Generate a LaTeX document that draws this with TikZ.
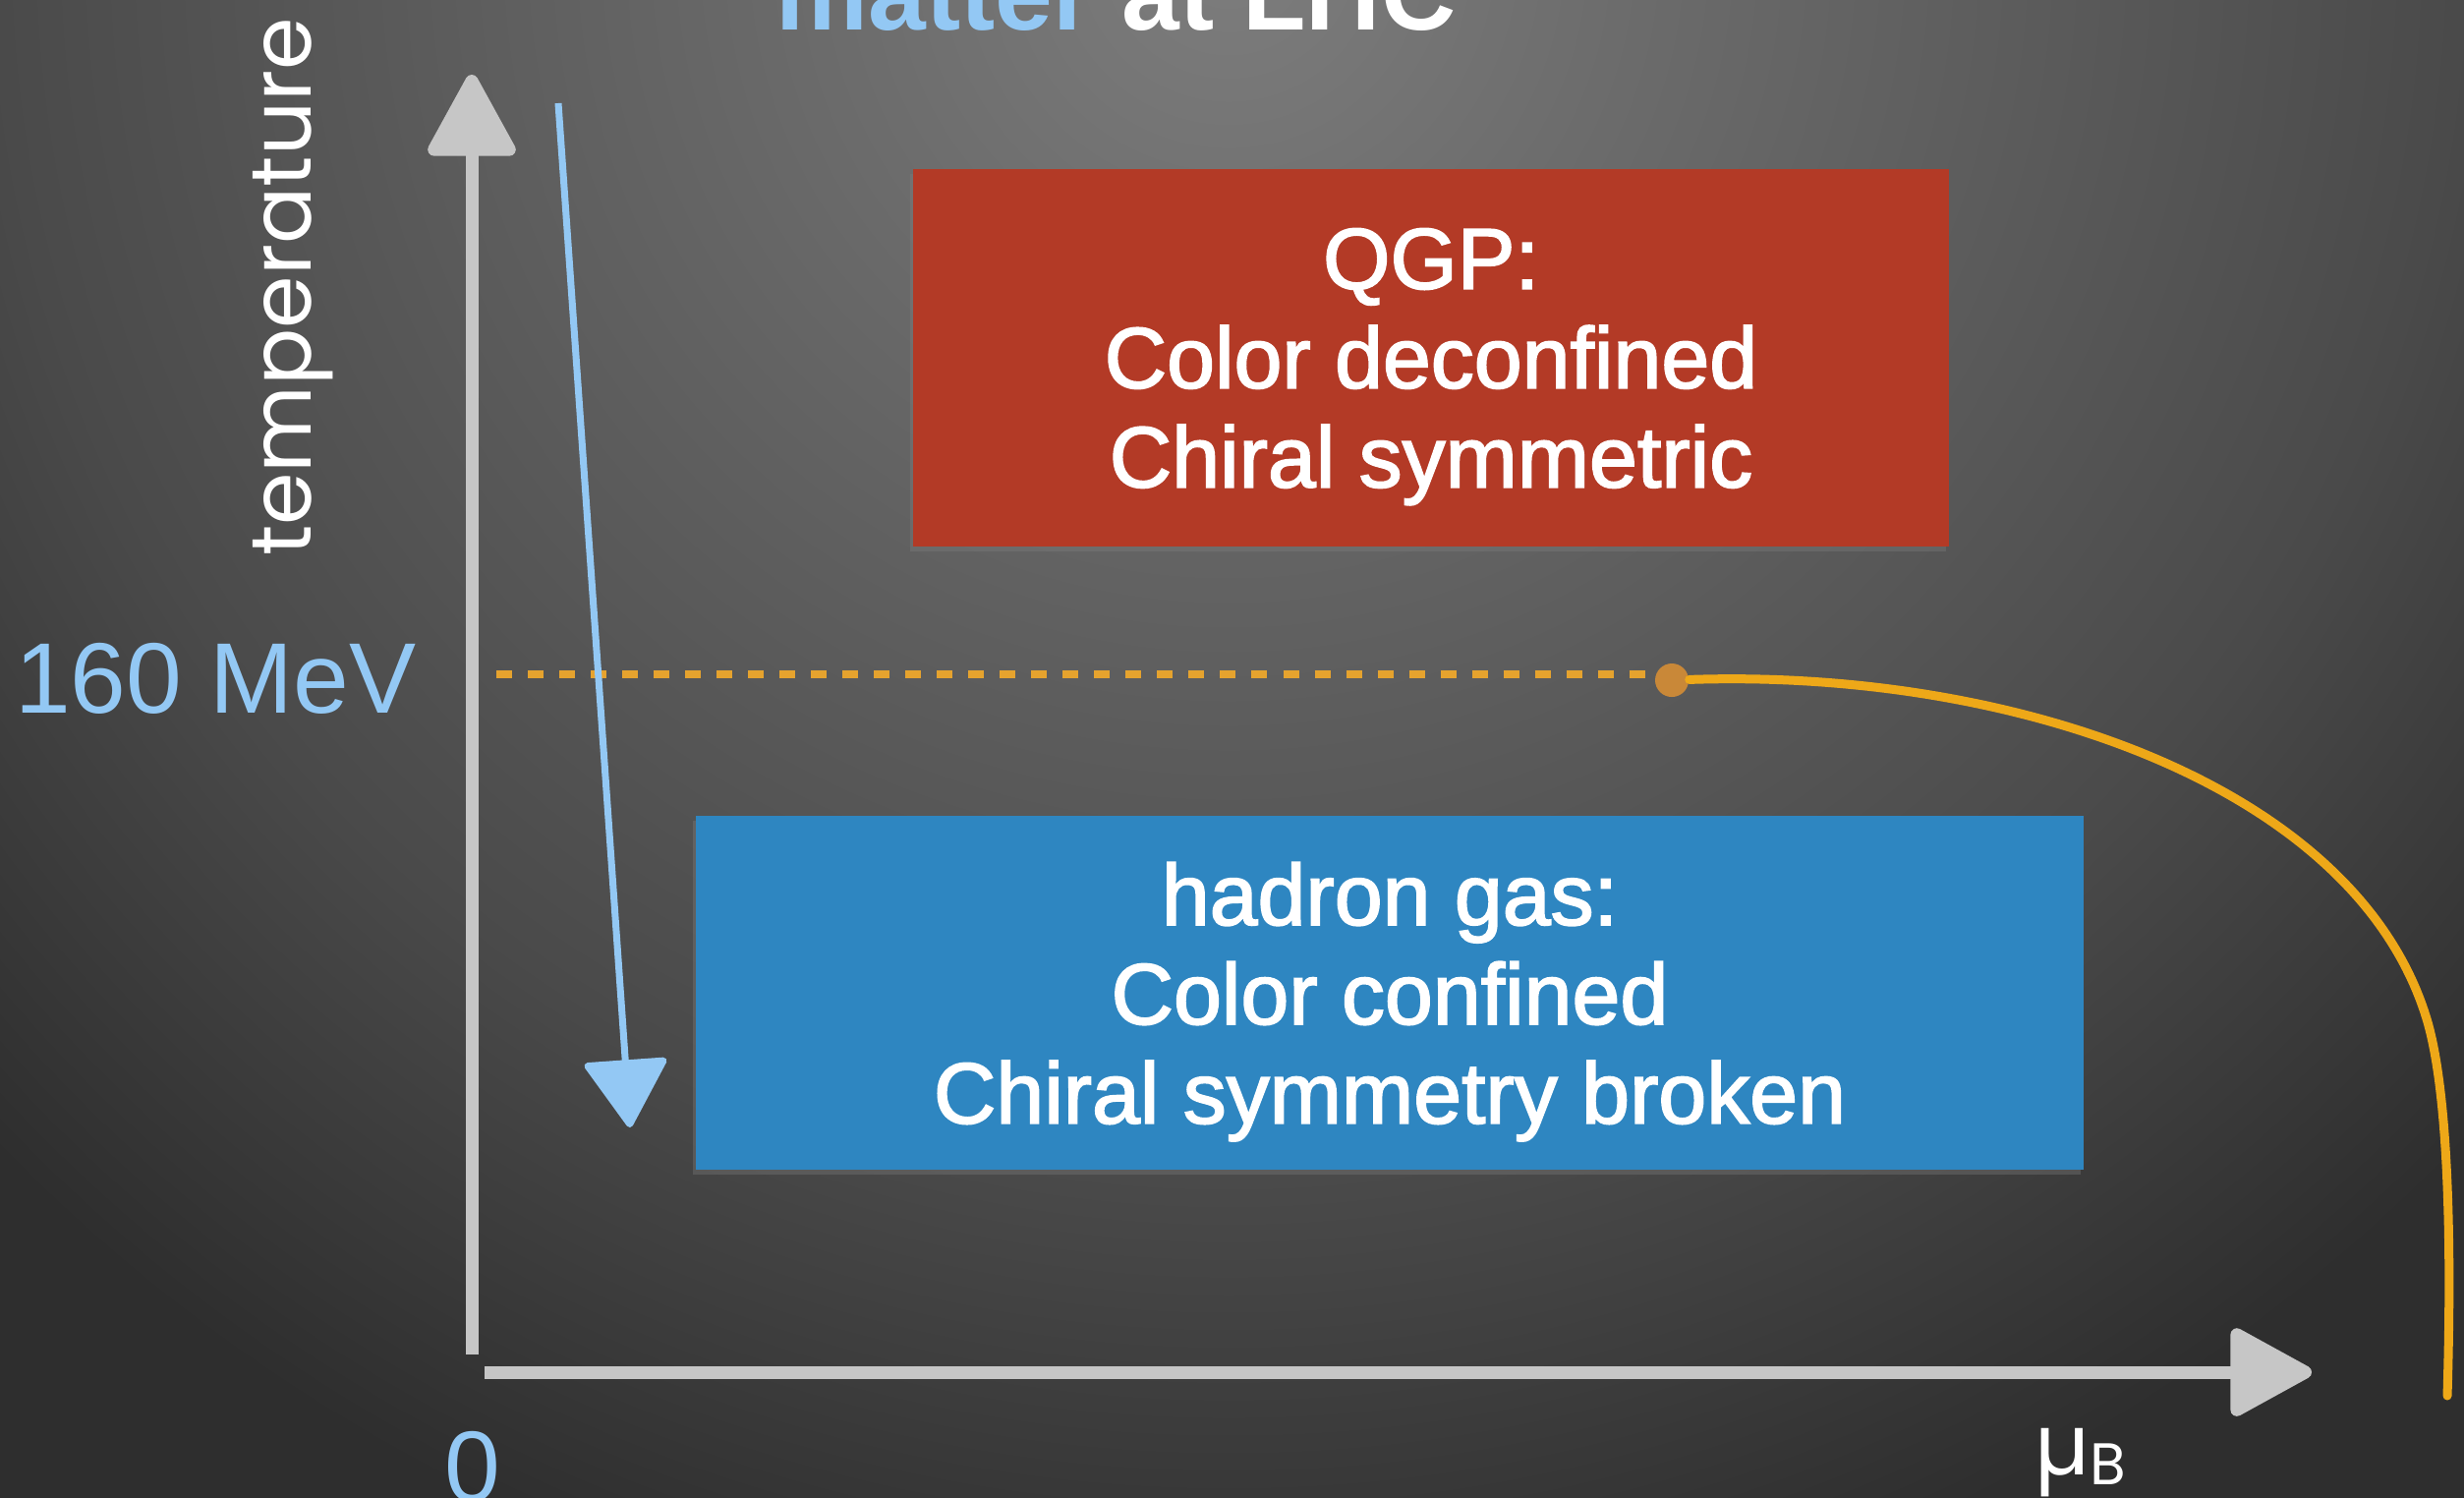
\documentclass[tikz,border=0pt]{standalone}
\usepackage{fontspec}
\setmainfont{Liberation Sans}
\newfontfamily\chalk{Poppins}
\newfontfamily\medium[FakeBold=2]{Liberation Sans}
\usetikzlibrary{arrows.meta,shadows}
\definecolor{bgtop}{HTML}{7D7D7D}
\definecolor{bgupper}{HTML}{6C6C6C}
\definecolor{bgmid}{HTML}{4A4A4A}
\definecolor{bglow}{HTML}{2E2E2E}
\definecolor{skyblue}{HTML}{93C8F4}
\definecolor{qgpred}{HTML}{B33A26}
\definecolor{hadronblue}{HTML}{2E86C1}
\definecolor{axisgray}{HTML}{C6C6C6}
\definecolor{transorange}{HTML}{EEA818}
\definecolor{dashorange}{HTML}{E6A32E}
\definecolor{cepdot}{HTML}{C98838}
\pgfdeclareradialshading{stagelight}{\pgfpoint{0bp}{0bp}}{color(0bp)=(bgtop); color(4bp)=(bgupper); color(12.5bp)=(bgmid); color(17.5bp)=(bglow); color(50bp)=(bglow)}

\begin{document}
\begin{tikzpicture}[x=0.01cm, y=-0.01cm,
    axis/.style={draw=axisgray, line width=0.13cm, -{Triangle[length=0.9cm, width=0.95cm, round]}},
    phase/.style={text=white, font=\medium\fontsize{25}{28.7}\selectfont, align=center, inner sep=0pt, text depth=0pt,
      drop shadow={shadow xshift=-0.03cm, shadow yshift=-0.05cm, opacity=0.35}},
    tick/.style={text=skyblue, font=\fontsize{29}{34}\selectfont, inner sep=0pt},
    hand/.style={text=white, font=\chalk\fontsize{24.5}{28}\selectfont, inner sep=0pt}]
  \clip (0,0) rectangle (2507,1523);
  \fill[bglow] (0,0) rectangle (2507,1523);
  \shade[shading=stagelight] (1250,-50) circle (25cm);

  \node[anchor=base west, inner sep=0pt, text=white, font=\bfseries\fontsize{30}{36}\selectfont] (title) at (789,30) {\textcolor{skyblue}{matter} at LHC};

  \node[phase, fill=qgpred, minimum width=10.54cm, minimum height=3.83cm] (qgp) at (1456,364) {QGP:\\Color deconfined\\Chiral symmetric};
  \node[phase, fill=hadronblue, minimum width=14.12cm, minimum height=3.59cm] (hadron) at (1414,1010) {hadron gas:\\Color confined\\Chiral symmetry broken};

  \coordinate (yfoot) at (480,1378);
  \coordinate (ytip) at (480,76);
  \coordinate (xfoot) at (493,1396);
  \coordinate (xtip) at (2352,1396);
  \draw[axis] (yfoot) -- (ytip);
  \draw[axis] (xfoot) -- (xtip);

  \node[hand, rotate=90] (templabel) at (298,292) {temperature};
  \node[hand, anchor=base west] (mub) at (2070,1500) {µ\raisebox{-0.1cm}{\fontsize{17}{20}\selectfont B}};
  \node[tick, anchor=base east] (tcrit) at (424,725) {160 MeV};
  \node[tick, anchor=base] (zero) at (481,1527) {0};

  \node[circle, fill=cepdot, minimum size=0.34cm, inner sep=0pt] (cep) at (1701,692) {};
  \coordinate (tc) at (505,686);
  \coordinate (curveend) at (2490,1420);
  \draw[dashorange, line width=0.08cm, dash pattern=on 0.16cm off 0.16cm] (tc) -- (tc -| cep.west);
  \draw[transorange, line width=0.09cm, line cap=round] (cep) .. controls (2050,680) and (2400,800) .. (2470,1040) .. controls (2490,1110) and (2495,1250) .. (curveend);

  \coordinate (coolstart) at (568,105);
  \coordinate (coolend) at (641,1147);
  \draw[skyblue, line width=0.07cm, -{Triangle[length=0.72cm, width=0.88cm, round]}] (coolstart) -- (coolend);
\end{tikzpicture}
\end{document}
